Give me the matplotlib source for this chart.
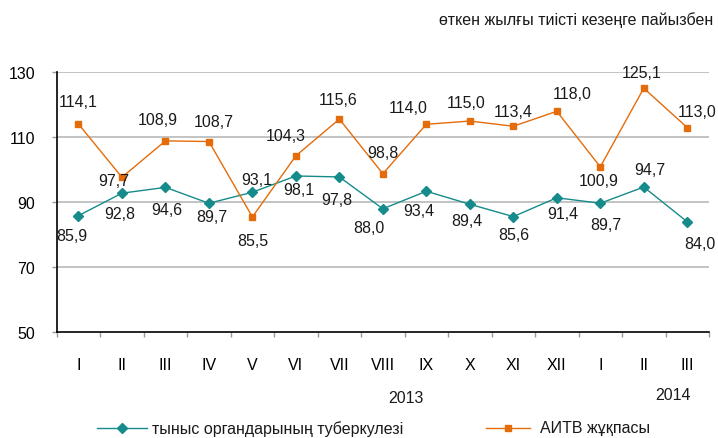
import matplotlib
matplotlib.use("Agg")
import matplotlib.pyplot as plt
from matplotlib.lines import Line2D
import numpy as np

plt.rcParams['font.family'] = ['Liberation Sans', 'DejaVu Sans']

months = ["I", "II", "III", "IV", "V", "VI", "VII", "VIII", "IX", "X", "XI", "XII", "I", "II", "III"]
tb_values = [85.9, 92.8, 94.6, 89.7, 93.1, 98.1, 97.8, 88.0, 93.4, 89.4, 85.6, 91.4, 89.7, 94.7, 84.0]
hiv_values = [114.1, 97.7, 108.9, 108.7, 85.5, 104.3, 115.6, 98.8, 114.0, 115.0, 113.4, 118.0, 100.9, 125.1, 113.0]
tb_name = "тыныс органдарының туберкулезі"
hiv_name = "АИТВ жұқпасы"
subtitle = "өткен жылғы тиісті кезеңге пайызбен"
years = ["2013", "2014"]

# label offsets in pixels (dx, dy down-positive)
tb_off = [(-7, 20), (-2, 20), (1, 22), (3, 13), (4, -13), (3, 14), (-3, 23), (-14, 19),
          (-8, 19), (-3, 16), (1, 18), (6, 16), (6, 21), (6, -18), (13, 22)]
hiv_off = [(0, -22), (-8, 3), (-8, -21), (5, -20), (0, 24), (-10, -20), (-1, -20), (0, -21),
           (-18, -17), (-4, -19), (0, -15), (15, -18), (-2, 14), (-2, -16), (10, -16)]

FS = 11.5
W, H = 718, 439
fig = plt.figure(figsize=(W / 100, H / 100), dpi=100)
ax = fig.add_axes([56.7 / W, 1 - 333.3 / H, (709 - 56.7) / W, (333.3 - 73.3) / H])

teal = "#168B8B"
orange = "#E46C0A"
x = np.arange(len(months))

ax.plot(x, tb_values, color=teal, lw=1.0, marker="D", ms=4.8, mfc=teal, mec=teal, zorder=3)
ax.plot(x, hiv_values, color=orange, lw=1.0, marker="s", ms=5.0, mfc=orange, mec=orange, zorder=3)

def fmt(v):
    return f"{v:.1f}".replace(".", ",")

for xi, v, (dx, dy) in zip(x, tb_values, tb_off):
    ax.annotate(fmt(v), (xi, v), xytext=(dx, -dy), textcoords="offset pixels",
                ha="center", va="center", fontsize=FS, color="#1a1a1a", annotation_clip=False)
for xi, v, (dx, dy) in zip(x, hiv_values, hiv_off):
    ax.annotate(fmt(v), (xi, v), xytext=(dx, -dy), textcoords="offset pixels",
                ha="center", va="center", fontsize=FS, color="#1a1a1a", annotation_clip=False)

ax.set_xlim(-0.5, len(months) - 0.5)
ax.set_ylim(50, 130)
ax.set_yticks([50, 70, 90, 110, 130])
ax.set_yticklabels(["50", "70", "90", "110", "130"], fontsize=FS)
for gy in [70, 90, 110, 130]:
    ax.axhline(gy, color="#BEBEBE", lw=1.3, zorder=1)

ax.set_xticks(x)
ax.set_xticklabels(months, fontsize=FS)
ax.set_xticks(np.arange(-0.5, len(months), 1.0), minor=True)
ax.tick_params(axis="x", which="major", length=0, pad=18)
ax.tick_params(axis="x", which="minor", length=3.6, color="#9A9A9A", width=1)
ax.tick_params(axis="y", length=3.6, color="#9A9A9A", width=1, pad=12)

for s in ["top", "right"]:
    ax.spines[s].set_visible(False)
ax.spines["left"].set_color("black")
ax.spines["bottom"].set_color("black")
ax.spines["left"].set_linewidth(1.2)
ax.spines["bottom"].set_linewidth(1.2)

fig.text(713 / W, 1 - 20 / H, subtitle, ha="right", va="center", fontsize=FS, color="#1a1a1a")
fig.text(405.7 / W, 1 - 398.7 / H, years[0], ha="center", va="center", fontsize=FS, color="#1a1a1a")
fig.text(672.7 / W, 1 - 395.7 / H, years[1], ha="center", va="center", fontsize=FS, color="#1a1a1a")

ly = 1 - 429 / H
fig.add_artist(Line2D([97 / W, 122 / W, 147 / W], [ly, ly, ly], transform=fig.transFigure,
                      color=teal, lw=1.0, marker="D", ms=4.8, markevery=[1], mfc=teal, mec=teal))
fig.text(152 / W, ly, tb_name, ha="left", va="center", fontsize=FS, color="#1a1a1a")
fig.add_artist(Line2D([486 / W, 508 / W, 530 / W], [ly, ly, ly], transform=fig.transFigure,
                      color=orange, lw=1.0, marker="s", ms=5.0, markevery=[1], mfc=orange, mec=orange))
fig.text(540 / W, ly, hiv_name, ha="left", va="center", fontsize=FS, color="#1a1a1a")

fig.savefig("out.png", dpi=100)
